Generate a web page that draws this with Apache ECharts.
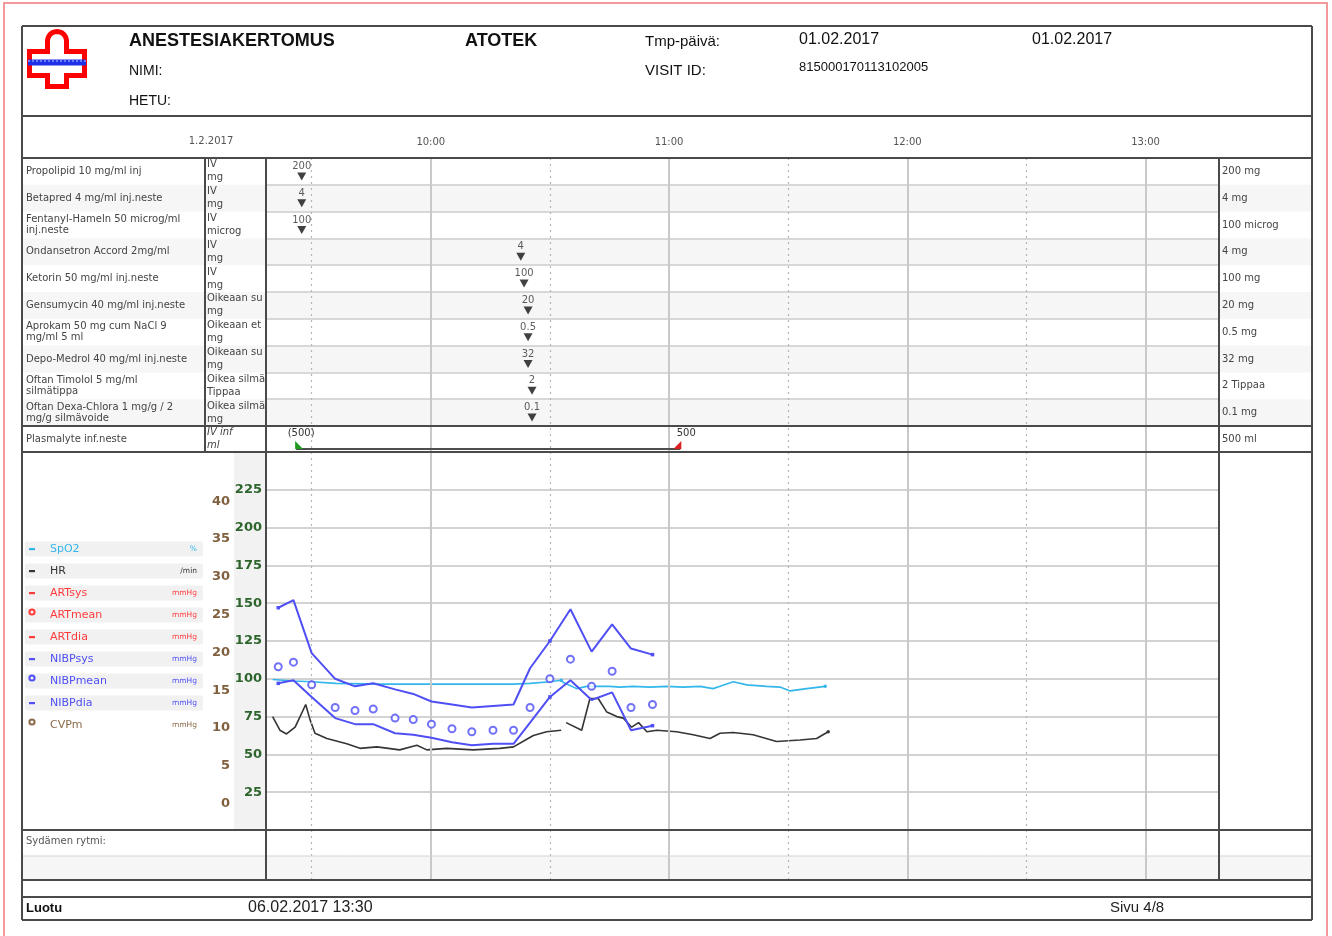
<!DOCTYPE html>
<html>
<head>
<meta charset="utf-8">
<title>Anestesiakertomus</title>
<script src="https://cdn.jsdelivr.net/npm/echarts@6/dist/echarts.min.js"></script>
<style>
  html, body { margin: 0; padding: 0; background: #ffffff; }
  #chart { width: 1332px; height: 936px; }
</style>
</head>
<body>
<div id="chart"></div>
<script>
// ---- time axis ----
const timeStart = '09:18:30';
const timeEnd = '13:18:30';
const hourLabels = ['10:00', '11:00', '12:00', '13:00'];
const halfHourLabels = ['09:30', '10:30', '11:30', '12:30'];
const chartDateLabel = '1.2.2017';

// ---- medication rows ----
const drugNames = [
  'Propolipid 10 mg/ml inj',
  'Betapred 4 mg/ml inj.neste',
  'Fentanyl-Hameln 50 microg/ml\ninj.neste',
  'Ondansetron Accord 2mg/ml',
  'Ketorin 50 mg/ml inj.neste',
  'Gensumycin 40 mg/ml inj.neste',
  'Aprokam 50 mg cum NaCl 9\nmg/ml 5 ml',
  'Depo-Medrol 40 mg/ml inj.neste',
  'Oftan Timolol 5 mg/ml\nsilmätippa',
  'Oftan Dexa-Chlora 1 mg/g / 2\nmg/g silmävoide'
];
const drugRoutes = [
  'IV\nmg', 'IV\nmg', 'IV\nmicrog', 'IV\nmg', 'IV\nmg',
  'Oikeaan suoneen\nmg', 'Oikeaan etukammioon\nmg', 'Oikeaan suoneen\nmg',
  'Oikea silmä\nTippaa', 'Oikea silmä\nmg'
];
const doseTimes = [
  '09:27:30', '09:27:30', '09:27:30', '10:22:40', '10:23:30',
  '10:24:30', '10:24:30', '10:24:30', '10:25:30', '10:25:30'
];
const doseLabels = ['200', '4', '100', '4', '100', '20', '0.5', '32', '2', '0.1'];
const drugTotals = [
  '200 mg', '4 mg', '100 microg', '4 mg', '100 mg',
  '20 mg', '0.5 mg', '32 mg', '2 Tippaa', '0.1 mg'
];

// ---- infusion row ----
const fluidName = ['Plasmalyte inf.neste'];
const fluidRoute = ['IV inf\nml'];
const fluidTimes = ['09:26:05', '11:02:50'];
const fluidLabels = ['(500)', '500'];
const fluidTotal = ['500 ml'];

// ---- vital signs ----
const pressureAxisMax = 250;
const pressureAxisStep = 25;
const cvpAxisLabels = [0, 5, 10, 15, 20, 25, 30, 35, 40];

const nibpTimes = [
  '09:21:35', '09:25:25', '09:30:00', '09:35:55', '09:40:55',
  '09:45:30', '09:51:00', '09:55:35', '10:00:10', '10:05:20',
  '10:10:20', '10:15:40', '10:20:50', '10:25:00', '10:30:00',
  '10:35:10', '10:40:30', '10:45:40', '10:50:25', '10:55:50'
];
const nibpSys = [147, 152, 117, 100, 95, 97, 93, 90, 85, 83, 81, 82, 83, 107, 125, 146, 118, 136, 120, 116];
const nibpMean = [108, 111, 96, 81, 79, 80, 74, 73, 70, 67, 65, 66, 66, 81, 100, 113, 95, 105, 81, 83];
const nibpDia = [97, 99, 88, 74, 70, 70, 64, 63, 61, 58, 56, 57, 57, 71, 88, 99, 86, 91, 66, 69];

const spo2Times = [
  '09:20:10', '09:25:25', '09:30:00', '09:36:00', '09:47:00', '09:55:25',
  '10:03:50', '10:12:10', '10:20:35', '10:25:00', '10:30:00', '10:32:50',
  '10:33:25', '10:36:45', '10:39:15', '10:42:35', '10:45:05', '10:47:40',
  '10:50:55', '10:55:10', '10:59:25', '11:03:35', '11:07:50', '11:11:05',
  '11:12:50', '11:16:10', '11:19:35', '11:24:35', '11:27:55', '11:30:30',
  '11:34:40', '11:39:20'
];
const spo2Values = [
  99.5, 98.5, 98, 97, 96.5, 96.5,
  96.5, 96.5, 96.5, 97, 98, 99,
  97.5, 93.5, 95, 95, 95, 94.5,
  95, 94.5, 95, 94.5, 95, 93.5,
  95, 98, 96, 95, 94.5, 92,
  93.5, 95
];

const hrTimes = [
  '09:20:10', '09:22:00', '09:23:40', '09:25:50', '09:27:05', '09:28:30',
  '09:29:35', '09:30:50', '09:33:50', '09:38:50', '09:42:10', '09:46:25',
  '09:52:10', '09:56:30', '09:59:00', '10:04:00', '10:10:40', '10:17:25',
  '10:20:50', '10:24:10', '10:25:50', '10:29:10', '10:32:50', '10:33:30',
  '10:34:05', '10:38:00', '10:40:05', '10:42:10', '10:44:20', '10:46:50',
  '10:48:30', '10:50:35', '10:52:20', '10:54:25', '10:56:55', '11:01:55',
  '11:06:05', '11:10:20', '11:12:50', '11:16:10', '11:21:10', '11:27:05',
  '11:33:00', '11:37:10', '11:40:05'
];
const hrValues = [
  75, 66, 63.5, 68, 75, 83,
  73, 64, 60.5, 57, 54, 55,
  53, 56, 53, 54, 53, 54,
  55, 60, 62.5, 65, 66, null,
  71, 66, 87, 87, 78, 75,
  74, 68, 71, 65, 66, 65,
  63, 60.5, 64, 64.5, 63, 58.5,
  59.5, 60.5, 65
];

// ---- legend ----
const legendNames = ['SpO2', 'HR', 'ARTsys', 'ARTmean', 'ARTdia', 'NIBPsys', 'NIBPmean', 'NIBPdia', 'CVPm'];
const legendUnits = ['%', '/min', 'mmHg', 'mmHg', 'mmHg', 'mmHg', 'mmHg', 'mmHg', 'mmHg'];

// ---------------------------------------------------------------------
function toMin(t) {
  const p = t.split(':').map(Number);
  return p[0] * 60 + p[1] + (p[2] || 0) / 60;
}
function fmtTime(v) {
  const h = Math.floor(v / 60), m = Math.round(v - h * 60);
  return String(h).padStart(2, '0') + ':' + String(m).padStart(2, '0');
}

const C = {
  frame: '#4a4a4a', shade: '#f6f6f6', grid: '#cdcdcd', text: '#444',
  spo2: '#33b6ea', hr: '#353535', art: '#ff3b3b', nibp: '#4f4ff5', cvp: '#8b6a48',
  green: '#2d652d', brown: '#80603f'
};
const legendColors = [C.spo2, C.hr, C.art, C.art, C.art, C.nibp, C.nibp, C.nibp, C.cvp];
const legendMarks = ['dash', 'dash', 'dash', 'ring', 'dash', 'dash', 'ring', 'dash', 'ring'];

// page layout (pixels)
const L = { left: 22, right: 1312, top: 26, bottom: 920, route: 205, chartL: 266, chartR: 1219,
  timeRow: 116, med: 158, fluid: 426, vit: 452, rhythm: 830, rhythmMid: 856, blank: 880, foot: 897 };
const chartW = L.chartR - L.chartL;
const medRowH = (L.fluid - L.med) / drugNames.length;

const SMALL = 'DejaVu Sans';
const HEAD = 'Liberation Sans';

function txt(text, x, y, font, fill, align) {
  return { type: 'text', z: 60, silent: true,
    style: { text, x, y, font, fill: fill || '#111', align: align || 'left', textAlign: align || 'left',
      verticalAlign: 'middle', textVerticalAlign: 'middle' } };
}
function hline(y, x1, x2, color, w) {
  return { type: 'line', z: 50, silent: true, shape: { x1, y1: y, x2, y2: y },
    style: { stroke: color || C.frame, lineWidth: w || 2 } };
}
function vline(x, y1, y2, color, w) {
  return { type: 'line', z: 50, silent: true, shape: { x1: x, y1, x2: x, y2 },
    style: { stroke: color || C.frame, lineWidth: w || 2 } };
}
function rect(x, y, w, h, fill, z) {
  return { type: 'rect', z: z === undefined ? -10 : z, silent: true, shape: { x, y, width: w, height: h },
    style: { fill } };
}

const graphics = [];
// page edge
graphics.push({ type: 'rect', z: 70, silent: true, shape: { x: 4, y: 3, width: 1323, height: 945 },
  style: { fill: 'none', stroke: '#f29a9a', lineWidth: 2 } });

// alternating row shading
drugNames.forEach((d, i) => {
  if (i % 2 === 1) graphics.push(rect(L.left, L.med + i * medRowH, L.right - L.left, medRowH, C.shade));
});
graphics.push(rect(L.left, L.rhythmMid, L.right - L.left, L.blank - L.rhythmMid, C.shade));
graphics.push(rect(234, L.vit, L.chartL - 234, L.rhythm - L.vit, '#f2f2f2'));

// frame lines
[L.top, L.timeRow, L.med, L.fluid, L.vit, L.rhythm, L.blank, L.foot, L.bottom].forEach(y => graphics.push(hline(y, L.left, L.right)));
graphics.push(hline(L.rhythmMid, L.left, L.right, '#d4d4d4', 1));
graphics.push(vline(L.left, L.top, L.bottom));
graphics.push(vline(L.right, L.top, L.bottom));
graphics.push(vline(L.route, L.med, L.vit));
graphics.push(vline(L.chartL, L.med, L.blank));
graphics.push(vline(L.chartR, L.med, L.blank));

// hospital cross emblem
(function () {
  const pts = [[47.5, 86.5], [47.5, 75.5], [29.5, 75.5], [29.5, 51.5], [47.5, 51.5], [47.5, 41]];
  for (let a = 180; a >= 0; a -= 15) {
    const r = a * Math.PI / 180;
    pts.push([57 + 9.5 * Math.cos(r), 41 - 9.5 * Math.sin(r)]);
  }
  pts.push([66.5, 51.5], [84.5, 51.5], [84.5, 75.5], [66.5, 75.5], [66.5, 86.5]);
  graphics.push({ type: 'polygon', z: 60, silent: true, shape: { points: pts },
    style: { fill: '#ffffff', stroke: '#ff0000', lineWidth: 5, lineJoin: 'miter' } });
  graphics.push(rect(28, 59.5, 58, 6, '#1f2fe6', 61));
  graphics.push({ type: 'line', z: 62, silent: true, shape: { x1: 28, y1: 61, x2: 86, y2: 61 },
    style: { stroke: '#9fb0ff', lineWidth: 1.2, lineDash: [2, 2] } });
})();

// header text
graphics.push(txt('ANESTESIAKERTOMUS', 129, 41, 'bold 18px "' + HEAD + '"'));
graphics.push(txt('NIMI:', 129, 71, '14px "' + HEAD + '"'));
graphics.push(txt('HETU:', 129, 101, '14px "' + HEAD + '"'));
graphics.push(txt('ATOTEK', 465, 41, 'bold 18px "' + HEAD + '"'));
graphics.push(txt('Tmp-päivä:', 645, 42, '15px "' + HEAD + '"'));
graphics.push(txt('VISIT ID:', 645, 71, '15px "' + HEAD + '"'));
graphics.push(txt('01.02.2017', 799, 40, '16px "' + HEAD + '"'));
graphics.push(txt('815000170113102005', 799, 67, '13px "' + HEAD + '"'));
graphics.push(txt('01.02.2017', 1032, 40, '16px "' + HEAD + '"'));
graphics.push(txt(chartDateLabel, 211, 141, '10px "' + SMALL + '"', '#555', 'center'));

// rhythm + footer text
graphics.push(txt('Sydämen rytmi:', 26, 841, '10px "' + SMALL + '"', '#555'));
graphics.push(txt('Luotu', 26, 908, 'bold 13px "' + HEAD + '"'));
graphics.push(txt('06.02.2017 13:30', 248, 908, '16px "' + HEAD + '"', '#222'));
graphics.push(txt('Sivu 4/8', 1110, 908, '15px "' + HEAD + '"', '#222'));

// vital sign legend
legendNames.forEach((name, i) => {
  const cy = 549 + i * 22;
  const col = legendColors[i];
  if (i < legendNames.length - 1) graphics.push({ type: 'rect', z: 5, silent: true,
    shape: { x: 25, y: cy - 7.5, width: 178, height: 15, r: 2 }, style: { fill: '#f1f1f1' } });
  if (legendMarks[i] === 'dash') graphics.push(rect(29, cy - 1, 6, 2.2, col, 20));
  else graphics.push({ type: 'circle', z: 20, silent: true, shape: { cx: 32, cy: cy - 3, r: 2.6 },
    style: { fill: 'none', stroke: col, lineWidth: 2 } });
  graphics.push(txt(name, 50, cy, '11px "' + SMALL + '"', col));
  graphics.push(txt(legendUnits[i], 197, cy, '7.5px "' + SMALL + '"', col, 'right'));
});

// ---- axes ----
const xMin = toMin(timeStart), xMax = toMin(timeEnd);
const grids = [
  { left: L.chartL, top: L.med, width: chartW, height: L.blank - L.med },      // 0: time gridlines
  { left: L.chartL, top: L.med, width: chartW, height: L.fluid - L.med },      // 1: medications
  { left: L.chartL, top: L.fluid, width: chartW, height: L.vit - L.fluid },    // 2: infusion
  { left: L.chartL, top: L.vit, width: chartW, height: L.rhythm - L.vit }      // 3: vital signs
];
const noLine = { show: false };
function timeAxis(gridIndex, extra) {
  return Object.assign({ type: 'value', gridIndex, min: xMin, max: xMax,
    axisLine: noLine, axisTick: noLine, splitLine: noLine, axisLabel: { show: false } }, extra || {});
}
const xAxes = [
  timeAxis(0),
  timeAxis(1, { position: 'top', axisLabel: { show: true, customValues: hourLabels.map(toMin),
    formatter: v => fmtTime(v), margin: 11, fontSize: 10, fontFamily: SMALL, color: '#555' } }),
  timeAxis(2),
  timeAxis(3)
];

function catAxis(gridIndex, data, position, label, split) {
  return { type: 'category', gridIndex, data, inverse: true, position,
    axisLine: noLine, axisTick: noLine,
    splitLine: split ? { show: true, lineStyle: { color: C.grid, width: 1.5 } } : noLine,
    axisLabel: Object.assign({ interval: 0, fontSize: 10, fontFamily: SMALL, color: C.text }, label) };
}
const routeLabel = { align: 'left', margin: L.chartL - 207, lineHeight: 13, width: 60, overflow: 'truncate', ellipsis: '' };
const yAxes = [
  catAxis(1, drugNames, 'left', { align: 'left', margin: L.chartL - 26, lineHeight: 11 }, true),   // 0
  catAxis(1, drugRoutes, 'left', routeLabel),                                                     // 1
  catAxis(1, drugTotals, 'right', { align: 'left', margin: 3 }),                                  // 2
  catAxis(2, fluidName, 'left', { align: 'left', margin: L.chartL - 26 }),                        // 3
  catAxis(2, fluidRoute, 'left', Object.assign({}, routeLabel, { fontStyle: 'italic' })),         // 4
  catAxis(2, fluidTotal, 'right', { align: 'left', margin: 3 }),                                  // 5
  { type: 'value', gridIndex: 2, min: 0, max: 1, show: false },                                   // 6
  { type: 'value', gridIndex: 3, min: 0, max: pressureAxisMax, interval: pressureAxisStep,        // 7
    position: 'left', axisLine: noLine, axisTick: noLine,
    splitLine: { show: true, lineStyle: { color: '#d3d3d3', width: 2 } },
    axisLabel: { margin: 4, color: C.green, fontWeight: 'bold', fontSize: 13, fontFamily: SMALL,
      padding: [0, 0, 11, 0], formatter: v => (v > 0 && v < pressureAxisMax) ? String(v) : '' } },
  { type: 'value', gridIndex: 3, min: -3.5, max: 46.5, position: 'left',                          // 8
    axisLine: noLine, axisTick: noLine, splitLine: noLine,
    axisLabel: { customValues: cvpAxisLabels, margin: 36, color: C.brown, fontWeight: 'bold',
      fontSize: 13, fontFamily: SMALL, padding: [0, 0, 11, 0] } },
  { type: 'value', gridIndex: 0, min: 0, max: 1, show: false }                                    // 9
];

// ---- series ----
const markIdx = [0, 14, nibpTimes.length - 1];
const series = [
  { // hour / half-hour guides
    type: 'line', xAxisIndex: 0, yAxisIndex: 9, data: [], silent: true, z: 1,
    markLine: { symbol: 'none', silent: true, animation: false, label: { show: false },
      data: hourLabels.map(t => ({ xAxis: toMin(t), lineStyle: { color: '#c9c9c9', width: 2, type: 'solid' } }))
        .concat(halfHourLabels.map(t => ({ xAxis: toMin(t), lineStyle: { color: '#b5b5b5', width: 1.2, type: [2, 4] } }))) }
  },
  { // medication doses
    type: 'scatter', name: 'Annos', xAxisIndex: 1, yAxisIndex: 0, z: 5,
    data: doseTimes.map((t, i) => [toMin(t), i]),
    symbol: 'triangle', symbolRotate: 180, symbolSize: [9, 8], symbolOffset: [0, 5],
    itemStyle: { color: '#111' },
    label: { show: true, position: 'top', distance: 1, fontSize: 10, fontFamily: SMALL, color: '#333',
      formatter: p => doseLabels[p.dataIndex] }
  },
  { // infusion
    type: 'line', name: fluidName[0], xAxisIndex: 2, yAxisIndex: 6, z: 5,
    lineStyle: { color: '#4d4d4d', width: 2 }, showSymbol: true,
    data: [
      { value: [toMin(fluidTimes[0]), 0.12], symbol: 'path://M0 0 L0 10 L10 10 Z', symbolSize: [8, 8],
        symbolOffset: [3, -4], itemStyle: { color: '#1f9a1f' },
        label: { show: true, position: 'top', distance: 2, offset: [2, 0], formatter: fluidLabels[0],
          fontSize: 10, fontFamily: SMALL, color: '#333' } },
      { value: [toMin(fluidTimes[1]), 0.12], symbol: 'path://M10 0 L10 10 L0 10 Z', symbolSize: [8, 8],
        symbolOffset: [-3, -4], itemStyle: { color: '#d92020' },
        label: { show: true, position: 'top', distance: 2, offset: [9, 0], formatter: fluidLabels[1],
          fontSize: 10, fontFamily: SMALL, color: '#333' } }
    ]
  },
  {
    type: 'line', name: 'SpO2', xAxisIndex: 3, yAxisIndex: 7, z: 4,
    data: spo2Times.map((t, i) => [toMin(t), spo2Values[i]]),
    lineStyle: { color: C.spo2, width: 1.6 }, itemStyle: { color: C.spo2 },
    symbol: 'circle', showSymbol: true,
    symbolSize: (v, p) => (p.dataIndex === 11 || p.dataIndex === spo2Times.length - 1) ? 3.5 : 0
  },
  {
    type: 'line', name: 'HR', xAxisIndex: 3, yAxisIndex: 7, z: 4, connectNulls: false,
    data: hrTimes.map((t, i) => [toMin(t), hrValues[i] === null ? '-' : hrValues[i]]),
    lineStyle: { color: C.hr, width: 1.6 }, itemStyle: { color: C.hr },
    symbol: 'circle', showSymbol: true,
    symbolSize: (v, p) => (p.dataIndex === hrTimes.length - 1) ? 3.5 : 0
  },
  {
    type: 'line', name: 'NIBPsys', xAxisIndex: 3, yAxisIndex: 7, z: 6,
    data: nibpTimes.map((t, i) => [toMin(t), nibpSys[i]]),
    lineStyle: { color: C.nibp, width: 2 }, itemStyle: { color: C.nibp },
    symbol: 'rect', showSymbol: true, symbolSize: (v, p) => markIdx.includes(p.dataIndex) ? 3.5 : 0
  },
  {
    type: 'line', name: 'NIBPdia', xAxisIndex: 3, yAxisIndex: 7, z: 6,
    data: nibpTimes.map((t, i) => [toMin(t), nibpDia[i]]),
    lineStyle: { color: C.nibp, width: 2 }, itemStyle: { color: C.nibp },
    symbol: 'rect', showSymbol: true, symbolSize: (v, p) => markIdx.includes(p.dataIndex) ? 3.5 : 0
  },
  {
    type: 'scatter', name: 'NIBPmean', xAxisIndex: 3, yAxisIndex: 7, z: 7,
    data: nibpTimes.map((t, i) => [toMin(t), nibpMean[i]]),
    symbol: 'emptyCircle', symbolSize: 7, itemStyle: { color: C.nibp, borderWidth: 2 }
  }
];

const chart = echarts.init(document.getElementById('chart'), null, { renderer: 'canvas' });
chart.setOption({
  animation: false,
  backgroundColor: '#ffffff',
  textStyle: { fontFamily: SMALL },
  grid: grids,
  xAxis: xAxes,
  yAxis: yAxes,
  series,
  graphic: { elements: graphics }
});
</script>
</body>
</html>
